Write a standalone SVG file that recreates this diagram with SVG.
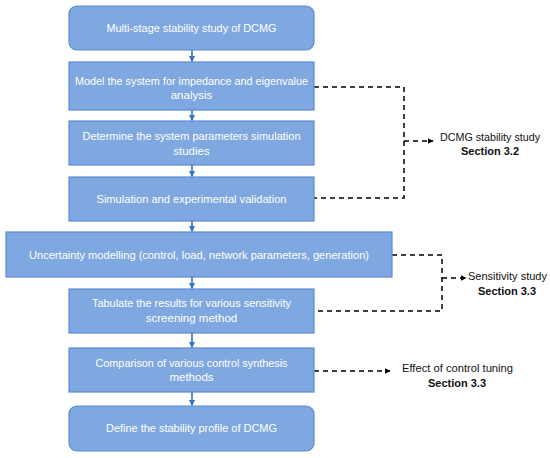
<svg xmlns="http://www.w3.org/2000/svg" width="550" height="458" viewBox="0 0 550 458">
<defs>
<style>
.box{fill:#7fa8e0;stroke:#5a8bd2;stroke-width:1.2}
.t{font-family:"Liberation Sans",Arial,sans-serif;font-size:11.5px;fill:#ffffff;text-anchor:middle;dominant-baseline:central}
.l{font-family:"Liberation Sans",Arial,sans-serif;font-size:11px;fill:#111111;text-anchor:middle;dominant-baseline:central}
.b{font-weight:bold}
.flow{stroke:#2f74c6;stroke-width:1.6;fill:none}
.dash{stroke:#000;stroke-width:1.5;fill:none;stroke-dasharray:5,4}
</style>
<marker id="ab" viewBox="0 0 10 10" refX="9" refY="5" markerWidth="6" markerHeight="6" orient="auto" markerUnits="userSpaceOnUse"><path d="M0,0L10,5L0,10z" fill="#2f74c6"/></marker>
<marker id="ak" viewBox="0 0 10 10" refX="9" refY="5" markerWidth="6" markerHeight="6" orient="auto" markerUnits="userSpaceOnUse"><path d="M0,0L10,5L0,10z" fill="#000"/></marker>
</defs>
<rect width="550" height="458" fill="#fff"/>
<g id="connectors">
<line class="flow" x1="192" y1="50" x2="192" y2="61.5" marker-end="url(#ab)"/>
<line class="flow" x1="192" y1="110" x2="192" y2="120.5" marker-end="url(#ab)"/>
<line class="flow" x1="192" y1="165" x2="192" y2="176.5" marker-end="url(#ab)"/>
<line class="flow" x1="192" y1="221" x2="192" y2="231.5" marker-end="url(#ab)"/>
<line class="flow" x1="192" y1="277" x2="192" y2="288.5" marker-end="url(#ab)"/>
<line class="flow" x1="192" y1="333" x2="192" y2="347.5" marker-end="url(#ab)"/>
<line class="flow" x1="192" y1="392" x2="192" y2="405.5" marker-end="url(#ab)"/>
<polyline class="dash" points="314,87 404,87 404,198 314,198"/>
<line class="dash" x1="404" y1="141" x2="433" y2="141" marker-end="url(#ak)"/>
<polyline class="dash" points="392,255 442,255 442,311 314,311"/>
<line class="dash" x1="442" y1="278" x2="466" y2="278" marker-end="url(#ak)"/>
<line class="dash" x1="314" y1="371" x2="390" y2="371" marker-end="url(#ak)"/>
</g>
<g id="n1"><rect class="box" x="69" y="6" width="245" height="44" rx="8"/><text class="t" x="191.5" y="28" textLength="170" lengthAdjust="spacingAndGlyphs">Multi-stage stability study of DCMG</text></g>
<g id="n2"><rect class="box" x="69" y="62" width="245" height="48"/><text class="t" x="191.5" y="81" textLength="233" lengthAdjust="spacingAndGlyphs">Model the system for impedance and eigenvalue</text><text class="t" x="191.5" y="95">analysis</text></g>
<g id="n3"><rect class="box" x="69" y="121" width="245" height="44"/><text class="t" x="191.5" y="136" textLength="218" lengthAdjust="spacingAndGlyphs">Determine the system parameters simulation</text><text class="t" x="191.5" y="151">studies</text></g>
<g id="n4"><rect class="box" x="69" y="177" width="245" height="44"/><text class="t" x="191.5" y="199" textLength="190" lengthAdjust="spacingAndGlyphs">Simulation and experimental validation</text></g>
<g id="n5"><rect class="box" x="6" y="232" width="386" height="45"/><text class="t" x="199" y="255" textLength="340" lengthAdjust="spacingAndGlyphs">Uncertainty modelling (control, load, network parameters, generation)</text></g>
<g id="n6"><rect class="box" x="69" y="289" width="245" height="44"/><text class="t" x="191.5" y="303" textLength="199" lengthAdjust="spacingAndGlyphs">Tabulate the results for various sensitivity</text><text class="t" x="191.5" y="318">screening method</text></g>
<g id="n7"><rect class="box" x="69" y="348" width="245" height="44"/><text class="t" x="191.5" y="363" textLength="192" lengthAdjust="spacingAndGlyphs">Comparison of various control synthesis</text><text class="t" x="191.5" y="377">methods</text></g>
<g id="n8"><rect class="box" x="69" y="406" width="245" height="45" rx="8"/><text class="t" x="191.5" y="428" textLength="171" lengthAdjust="spacingAndGlyphs">Define the stability profile of DCMG</text></g>
<g id="lab1"><text class="l" x="490" y="137" textLength="100" lengthAdjust="spacingAndGlyphs">DCMG stability study</text><text class="l b" x="490" y="151">Section 3.2</text></g>
<g id="lab2"><text class="l" x="507.5" y="276" textLength="79" lengthAdjust="spacingAndGlyphs">Sensitivity study</text><text class="l b" x="507" y="291">Section 3.3</text></g>
<g id="lab3"><text class="l" x="457.5" y="368" textLength="111" lengthAdjust="spacingAndGlyphs">Effect of control tuning</text><text class="l b" x="457" y="383">Section 3.3</text></g>
</svg>
